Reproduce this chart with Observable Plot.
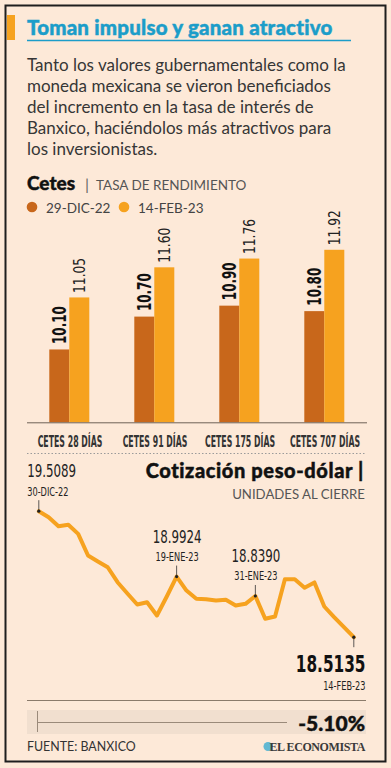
<!DOCTYPE html>
<html lang="es">
<head>
<meta charset="utf-8">
<script src="https://cdn.jsdelivr.net/npm/d3@7"></script>
<script src="https://cdn.jsdelivr.net/npm/@observablehq/plot@0.6"></script>
<style>
  html, body { margin: 0; padding: 0; background: #fde9d8; }
  #card { position: relative; width: 391px; height: 768px; overflow: hidden; background: #fde9d8; }
  #card > svg { position: absolute; left: 0; }
</style>
</head>
<body>
<div id="card"></div>
<script>
// ---------------- data ----------------
const titleText = "Toman impulso y ganan atractivo";
const bodyLines = [
  "Tanto los valores gubernamentales como la",
  "moneda mexicana se vieron beneficiados",
  "del incremento en la tasa de interés de",
  "Banxico, haciéndolos más atractivos para",
  "los inversionistas."
];
const barTitle = "Cetes";
const barSubtitle = "TASA DE RENDIMIENTO";
const categories = ["CETES 28 DÍAS", "CETES 91 DÍAS", "CETES 175 DÍAS", "CETES 707 DÍAS"];
const seriesNames = ["29-DIC-22", "14-FEB-23"];
const seriesColors = ["#c8671b", "#f6a21f"];
const rate29Dic = [10.10, 10.70, 10.90, 10.80];
const rate14Feb = [11.05, 11.60, 11.76, 11.92];

const lineTitle = "Cotización peso-dólar |";
const lineSubtitle = "UNIDADES AL CIERRE";
const fxDates = [
  "30-DIC-22",
  "02-ENE-23", "03-ENE-23", "04-ENE-23", "05-ENE-23", "06-ENE-23",
  "09-ENE-23", "10-ENE-23", "11-ENE-23", "12-ENE-23", "13-ENE-23",
  "16-ENE-23", "17-ENE-23", "18-ENE-23", "19-ENE-23", "20-ENE-23",
  "23-ENE-23", "24-ENE-23", "25-ENE-23", "26-ENE-23", "27-ENE-23",
  "30-ENE-23", "31-ENE-23",
  "01-FEB-23", "02-FEB-23", "03-FEB-23",
  "06-FEB-23", "07-FEB-23", "08-FEB-23", "09-FEB-23", "10-FEB-23",
  "13-FEB-23", "14-FEB-23"
];
const fxValues = [
  19.5089,
  19.461, 19.390, 19.402, 19.330, 19.159,
  19.112, 19.066, 18.948, 18.859, 18.772,
  18.790, 18.685, 18.835, 18.9924, 18.882,
  18.817, 18.814, 18.803, 18.809, 18.764,
  18.777, 18.8390,
  18.659, 18.677, 18.972,
  18.972, 18.904, 18.946, 18.756, 18.672,
  18.593, 18.5135
];
const annotatedDates = ["30-DIC-22", "19-ENE-23", "31-ENE-23"];
const sourceText = "FUENTE: BANXICO";
const brandText = "EL ECONOMISTA";

// ---------------- styles ----------------
const sans = '"Lato", "Noto Sans", sans-serif';
const condensed = '"DejaVu Sans Condensed", "DejaVu Sans", sans-serif';
const LINE_COLOR = "#f6a21f";

const card = document.getElementById("card");

// ---------------- overlay (frame, titles, legend, footer) ----------------
const ov = d3.select(card).append("svg")
  .attr("width", 391).attr("height", 768)
  .style("top", "0px")
  .attr("font-family", sans);

function heavy(sel, color) {
  return sel.attr("stroke", color).attr("stroke-width", 0.45).attr("paint-order", "stroke");
}

ov.append("rect").attr("x", 5.5).attr("y", 5.5).attr("width", 380).attr("height", 756)
  .attr("fill", "none").attr("stroke", "#1e1e1e").attr("stroke-width", 2);
ov.append("rect").attr("x", 7).attr("y", 15).attr("width", 8).attr("height", 25).attr("fill", LINE_COLOR);
heavy(ov.append("text").attr("x", 27).attr("y", 34.5).attr("font-size", 20.5).attr("font-weight", 900)
  .attr("letter-spacing", 0.2).attr("fill", "#1c9dc9").text(titleText), "#1c9dc9");
ov.append("line").attr("x1", 27).attr("x2", 351).attr("y1", 40.5).attr("y2", 40.5)
  .attr("stroke", "#1c9dc9").attr("stroke-width", 1.5);
bodyLines.forEach((t, i) => {
  ov.append("text").attr("x", 27).attr("y", 71 + 20.9 * i).attr("font-size", 17)
    .attr("fill", "#363636").text(t);
});

heavy(ov.append("text").attr("x", 27).attr("y", 190).attr("font-size", 19).attr("font-weight", 900)
  .attr("fill", "#111").text(barTitle), "#111");
ov.append("text").attr("x", 85).attr("y", 190).attr("font-size", 16).attr("fill", "#666").text("|");
ov.append("text").attr("x", 96).attr("y", 190).attr("font-size", 13.5).attr("fill", "#555").text(barSubtitle);

const legendX = [32, 124];
seriesNames.forEach((s, i) => {
  ov.append("circle").attr("cx", legendX[i]).attr("cy", 207).attr("r", 5.3).attr("fill", seriesColors[i]);
  ov.append("text").attr("x", legendX[i] + 14).attr("y", 212.5).attr("font-size", 13.5)
    .attr("fill", "#444").text(s);
});

ov.append("line").attr("x1", 27).attr("x2", 366).attr("y1", 453.5).attr("y2", 453.5)
  .attr("stroke", "#9a9a9a").attr("stroke-dasharray", "1.5,2");

heavy(ov.append("text").attr("x", 364).attr("y", 478).attr("text-anchor", "end").attr("font-size", 20)
  .attr("font-weight", 900).attr("letter-spacing", 0.6).attr("fill", "#111").text(lineTitle), "#111");
ov.append("text").attr("x", 365).attr("y", 499).attr("text-anchor", "end").attr("font-size", 13.2)
  .attr("fill", "#555").text(lineSubtitle);

ov.append("line").attr("x1", 27).attr("x2", 366).attr("y1", 700.5).attr("y2", 700.5)
  .attr("stroke", "#8b7b6b").attr("stroke-width", 1);
ov.append("rect").attr("x", 27).attr("y", 710).attr("width", 339).attr("height", 24).attr("fill", "#f1dfcf");
ov.append("line").attr("x1", 37.5).attr("x2", 37.5).attr("y1", 711).attr("y2", 732)
  .attr("stroke", "#9a8a7a").attr("stroke-width", 1);
ov.append("line").attr("x1", 37.5).attr("x2", 287).attr("y1", 722.5).attr("y2", 722.5)
  .attr("stroke", "#9a8a7a").attr("stroke-width", 1);
const change = (fxValues[fxValues.length - 1] / fxValues[0] - 1) * 100;
heavy(ov.append("text").attr("x", 365).attr("y", 731).attr("text-anchor", "end").attr("font-size", 21)
  .attr("font-weight", 900).attr("fill", "#111").text(change.toFixed(2) + "%"), "#111");
ov.append("text").attr("x", 27).attr("y", 751).attr("font-size", 12.4).attr("fill", "#333").text(sourceText);
ov.append("circle").attr("cx", 268).attr("cy", 746.5).attr("r", 4.5).attr("fill", "#62b8d2");
ov.append("text").attr("x", 365).attr("y", 751).attr("text-anchor", "end").attr("font-size", 12)
  .attr("font-weight", "bold").attr("font-family", '"Liberation Serif", "DejaVu Serif", serif')
  .attr("fill", "#3a3a3a").attr("letter-spacing", -0.4).text(brandText);

// ---------------- bar chart ----------------
const yMin = 8.77;
const rows = categories.flatMap((c, i) => [
  {cat: c, serie: seriesNames[0], v: rate29Dic[i]},
  {cat: c, serie: seriesNames[1], v: rate14Feb[i]}
]);

const bars = Plot.plot({
  width: 391, height: 262,
  marginTop: 33.5, marginBottom: 29.7, marginLeft: 26.7, marginRight: 24.3,
  style: {background: "transparent", fontFamily: condensed, fontSize: "14px", color: "#2a2a2a", overflow: "visible"},
  facet: {data: rows, x: "cat"},
  fx: {domain: categories, padding: 0, axis: null},
  x: {domain: seriesNames, axis: null, paddingInner: 0, paddingOuter: 1.05},
  y: {domain: [yMin, 12.4], axis: null},
  color: {domain: seriesNames, range: seriesColors},
  marks: [
    Plot.barY(rows, {x: "serie", y1: yMin, y2: "v", fill: "serie"}),
    Plot.ruleY([yMin], {stroke: "#6e6258", strokeWidth: 1}),
    Plot.text(rows, {filter: d => d.serie === seriesNames[0], x: "serie", y: "v",
      text: d => d.v.toFixed(2), rotate: -90, textAnchor: "start", lineAnchor: "middle",
      dy: -6, fontWeight: "bold", fontSize: 19, fill: "#111"}),
    Plot.text(rows, {filter: d => d.serie === seriesNames[1], x: "serie", y: "v",
      text: d => d.v.toFixed(2), rotate: -90, textAnchor: "start", lineAnchor: "middle",
      dy: -5, fontSize: 16, fill: "#222"}),
    Plot.text(rows, {filter: d => d.serie === seriesNames[0], text: "cat",
      frameAnchor: "bottom", lineAnchor: "bottom", dy: 24.5, fontSize: 15.5, fontWeight: "bold", fill: "#333"})
  ]
});
bars.style.top = "190px";
card.appendChild(bars);

// ---------------- line chart ----------------
const fxRows = fxDates.map((d, i) => ({i, date: d, v: fxValues[i]}));
const [vMin, vMax] = d3.extent(fxValues);
const innerH = 250 - 60.7 - 63.3;
const tickLen = 10.5 * (vMax - vMin) / innerH;
const ann = fxRows.filter(d => annotatedDates.includes(d.date));
const last = fxRows[fxRows.length - 1];

const line = Plot.plot({
  width: 391, height: 250,
  marginTop: 60.7, marginBottom: 63.3, marginLeft: 38.3, marginRight: 37.7,
  style: {background: "transparent", fontFamily: condensed, fontSize: "12px", color: "#222", overflow: "visible"},
  x: {domain: [0, fxDates.length - 1], axis: null},
  y: {domain: [vMin, vMax], axis: null},
  marks: [
    Plot.line(fxRows, {x: "i", y: "v", stroke: LINE_COLOR, strokeWidth: 4, strokeLinejoin: "round"}),
    Plot.ruleX(ann, {x: "i", y1: "v", y2: d => d.v + tickLen, stroke: "#333", strokeWidth: 0.8}),
    Plot.ruleX([last], {x: "i", y1: "v", y2: d => d.v - tickLen, stroke: "#333", strokeWidth: 0.8}),
    Plot.dot([...ann, last], {x: "i", y: "v", r: 1.6, fill: "#222"}),
    Plot.text([ann[0]], {x: "i", y: "v", text: d => d.v.toFixed(4), textAnchor: "start",
      lineAnchor: "bottom", dx: -11.6, dy: -34, fontSize: 18, fill: "#222"}),
    Plot.text([ann[0]], {x: "i", y: "v", text: "date", textAnchor: "start",
      lineAnchor: "bottom", dx: -11.6, dy: -15.7, fontSize: 12.5, fill: "#222"}),
    Plot.text(ann.slice(1), {x: "i", y: "v", text: d => d.v.toFixed(4), textAnchor: "middle",
      lineAnchor: "bottom", dx: 0.5, dy: -33.5, fontSize: 18, fill: "#222"}),
    Plot.text(ann.slice(1), {x: "i", y: "v", text: "date", textAnchor: "middle",
      lineAnchor: "bottom", dx: 0.5, dy: -15.6, fontSize: 12.5, fill: "#222"}),
    Plot.text([last], {x: "i", y: "v", text: d => d.v.toFixed(4), textAnchor: "end",
      lineAnchor: "bottom", dx: 11.7, dy: 35, fontSize: 23, fontWeight: "bold", fill: "#111"}),
    Plot.text([last], {x: "i", y: "v", text: "date", textAnchor: "end",
      lineAnchor: "bottom", dx: 11.7, dy: 52.6, fontSize: 12.5, fill: "#222"})
  ]
});
line.style.top = "450px";
card.appendChild(line);

// ---------------- condense the narrow-font labels ----------------
const squeezeBySize = {"15.5": 0.56, "19": 0.70, "16": 0.85, "18": 0.73, "12.5": 0.73, "23": 0.74};
for (const svg of [bars, line]) {
  svg.querySelectorAll("text").forEach(t => {
    const fs = String(parseFloat(getComputedStyle(t).fontSize));
    const f = squeezeBySize[fs];
    if (f) {
      t.setAttribute("textLength", (t.getComputedTextLength() * f).toFixed(2));
      t.setAttribute("lengthAdjust", "spacingAndGlyphs");
    }
  });
}
</script>
</body>
</html>
